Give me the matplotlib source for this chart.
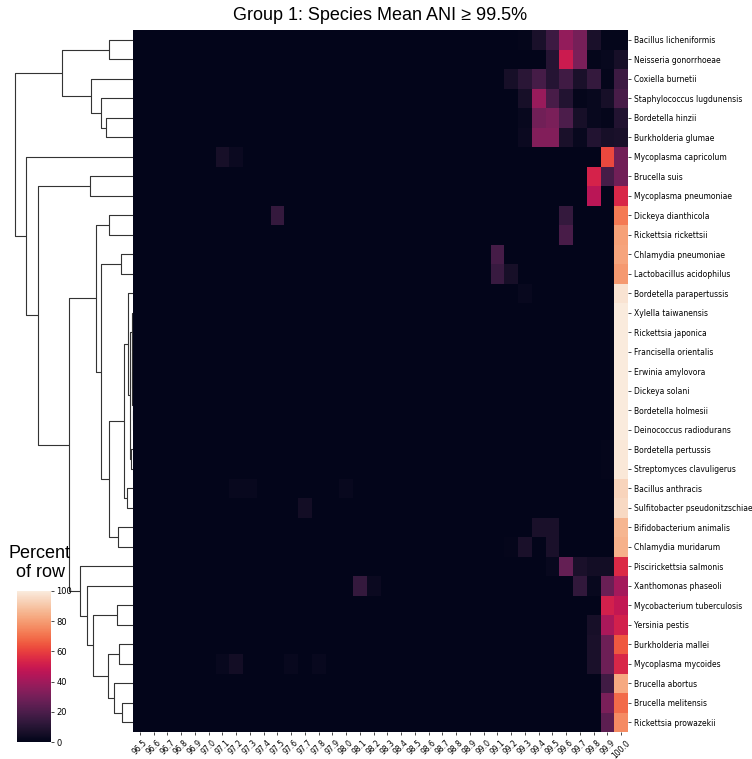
import matplotlib
matplotlib.use("Agg")
import matplotlib.pyplot as plt
import numpy as np
import seaborn as sns
from matplotlib.collections import LineCollection

# --- Data: share of each species' genome pairs falling in each ANI bin (%) ---
species = [
    "Bacillus licheniformis", "Neisseria gonorrhoeae", "Coxiella burnetii",
    "Staphylococcus lugdunensis", "Bordetella hinzii", "Burkholderia glumae",
    "Mycoplasma capricolum", "Brucella suis", "Mycoplasma pneumoniae",
    "Dickeya dianthicola", "Rickettsia rickettsii", "Chlamydia pneumoniae",
    "Lactobacillus acidophilus", "Bordetella parapertussis", "Xylella taiwanensis",
    "Rickettsia japonica", "Francisella orientalis", "Erwinia amylovora",
    "Dickeya solani", "Bordetella holmesii", "Deinococcus radiodurans",
    "Bordetella pertussis", "Streptomyces clavuligerus", "Bacillus anthracis",
    "Sulfitobacter pseudonitzschiae", "Bifidobacterium animalis",
    "Chlamydia muridarum", "Piscirickettsia salmonis", "Xanthomonas phaseoli",
    "Mycobacterium tuberculosis", "Yersinia pestis", "Burkholderia mallei",
    "Mycoplasma mycoides", "Brucella abortus", "Brucella melitensis",
    "Rickettsia prowazekii",
]

ani_bins = [
    "96.5", "96.6", "96.7", "96.8", "96.9", "97.0", "97.1", "97.2", "97.3",
    "97.4", "97.5", "97.6", "97.7", "97.8", "97.9", "98.0", "98.1", "98.2",
    "98.3", "98.4", "98.5", "98.6", "98.7", "98.8", "98.9", "99.0", "99.1",
    "99.2", "99.3", "99.4", "99.5", "99.6", "99.7", "99.8", "99.9", "100.0",
]

# non-zero bins only; everything else is 0
row_percent = [
    {"99.3": 1, "99.4": 7, "99.5": 16, "99.6": 37, "99.7": 30, "99.8": 7, "99.9": 1, "100.0": 1},
    {"99.5": 10, "99.6": 50, "99.7": 31, "99.8": 1, "99.9": 2, "100.0": 6},
    {"99.2": 6, "99.3": 11, "99.4": 18, "99.5": 10, "99.6": 17, "99.7": 7, "99.8": 14, "99.9": 1, "100.0": 16},
    {"99.3": 6, "99.4": 38, "99.5": 19, "99.6": 9, "99.7": 1, "99.8": 2, "99.9": 6, "100.0": 19},
    {"99.3": 2, "99.4": 29, "99.5": 31, "99.6": 20, "99.7": 6, "99.8": 2, "99.9": 1, "100.0": 9},
    {"99.3": 3, "99.4": 33, "99.5": 33, "99.6": 7, "99.7": 2, "99.8": 9, "99.9": 6, "100.0": 7},
    {"97.1": 6, "97.2": 3, "99.9": 62, "100.0": 29},
    {"99.8": 53, "99.9": 18, "100.0": 29},
    {"99.8": 46, "100.0": 54},
    {"97.5": 14, "99.6": 14, "100.0": 72},
    {"99.6": 19, "100.0": 81},
    {"99.1": 18, "100.0": 82},
    {"99.1": 15, "99.2": 6, "100.0": 79},
    {"99.3": 2, "100.0": 98},
    {"100.0": 100},
    {"100.0": 100},
    {"100.0": 100},
    {"100.0": 100},
    {"100.0": 100},
    {"100.0": 100},
    {"100.0": 100},
    {"99.9": 1, "100.0": 99},
    {"99.9": 1, "100.0": 99},
    {"97.2": 2, "97.3": 2, "98.0": 2, "100.0": 94},
    {"97.7": 5, "100.0": 95},
    {"99.4": 7, "99.5": 7, "100.0": 86},
    {"99.2": 1, "99.3": 7, "99.5": 7, "100.0": 85},
    {"99.5": 2, "99.6": 26, "99.7": 7, "99.8": 5, "99.9": 5, "100.0": 55},
    {"98.1": 14, "98.2": 3, "99.7": 13, "99.8": 2, "99.9": 27, "100.0": 41},
    {"99.9": 52, "100.0": 48},
    {"99.8": 6, "99.9": 42, "100.0": 52},
    {"99.8": 7, "99.9": 28, "100.0": 65},
    {"97.1": 2, "97.2": 5, "97.6": 2, "97.8": 2, "99.8": 7, "99.9": 28, "100.0": 54},
    {"99.9": 17, "100.0": 83},
    {"99.9": 31, "100.0": 69},
    {"99.9": 24, "100.0": 76},
]

# row clustering: (child a, child b, distance); ids >= len(species) are earlier merges
merges = [
    (0, 1, 23.7), (4, 5, 27.3), (3, 37, 31.7), (2, 38, 41.7), (36, 39, 70.7),
    (7, 8, 43.0), (9, 10, 24.3), (11, 12, 11.7),
    (19, 20, 0.3), (18, 44, 0.5), (17, 45, 0.7), (16, 46, 0.9), (15, 47, 1.1),
    (14, 48, 1.3), (21, 22, 2.3), (49, 50, 2.7), (13, 51, 5.0), (23, 24, 6.3),
    (52, 53, 9.0), (25, 26, 14.7), (54, 55, 23.7), (43, 56, 31.7), (42, 57, 37.3),
    (34, 35, 11.3), (33, 59, 19.3), (31, 32, 14.0), (61, 60, 25.3), (29, 30, 16.3),
    (63, 62, 40.3), (28, 64, 45.7), (27, 65, 53.0), (58, 66, 63.7), (41, 67, 95.3),
    (6, 68, 107.3), (40, 69, 118.3),
]

n_rows = len(species)
mat = np.zeros((n_rows, len(ani_bins)))
for i, row in enumerate(row_percent):
    for b, v in row.items():
        mat[i, ani_bins.index(b)] = v

W, H = 752, 759
fig = plt.figure(figsize=(W / 100, H / 100), dpi=100)

# heatmap
ax = fig.add_axes([133 / W, 1 - 732 / H, 495 / W, 702 / H])
cmap = sns.color_palette("rocket", as_cmap=True)
mesh = ax.pcolormesh(np.arange(len(ani_bins) + 1), np.arange(n_rows + 1), mat,
                     cmap=cmap, vmin=0, vmax=100)
ax.set_xlim(0, len(ani_bins))
ax.set_ylim(n_rows, 0)
for s in ax.spines.values():
    s.set_visible(False)
ax.yaxis.tick_right()
ax.set_yticks(np.arange(n_rows) + 0.5)
ax.set_yticklabels(species, fontsize=5.5)
ax.set_xticks(np.arange(len(ani_bins)) + 0.5)
ax.set_xticklabels(ani_bins, fontsize=5.5, rotation=45)
ax.tick_params(length=2, width=0.5, pad=2.5)

# row dendrogram
dax = fig.add_axes([8.8 / W, 1 - 732 / H, 124.2 / W, 702 / H])
pos = {i: i + 0.5 for i in range(n_rows)}
hgt = {i: 0.0 for i in range(n_rows)}
segs = []
for k, (a, b, h) in enumerate(merges):
    segs.append([(hgt[a], pos[a]), (h, pos[a]), (h, pos[b]), (hgt[b], pos[b])])
    pos[n_rows + k] = (pos[a] + pos[b]) / 2
    hgt[n_rows + k] = h
dax.add_collection(LineCollection(segs, colors="#333333", linewidths=0.8))
dax.set_xlim(max(hgt.values()) * 1.05, 0)
dax.set_ylim(n_rows, 0)
dax.axis("off")

# colour bar
cax = fig.add_axes([17 / W, 1 - 742 / H, 34 / W, 151 / H])
cb = fig.colorbar(mesh, cax=cax)
cb.outline.set_visible(False)
cb.set_ticks([0, 20, 40, 60, 80, 100])
cax.tick_params(labelsize=6, length=2, width=0.5, pad=2)

fig.text(40 / W, 1 - 563 / H, "Percent\nof row", ha="center", va="center",
         fontsize=13, family=["Liberation Sans", "DejaVu Sans"])
fig.text(380.5 / W, 1 - 15 / H, "Group 1: Species Mean ANI ≥ 99.5%", ha="center",
         va="center", fontsize=13, family=["Liberation Sans", "DejaVu Sans"])

fig.savefig("out.png", dpi=100)
